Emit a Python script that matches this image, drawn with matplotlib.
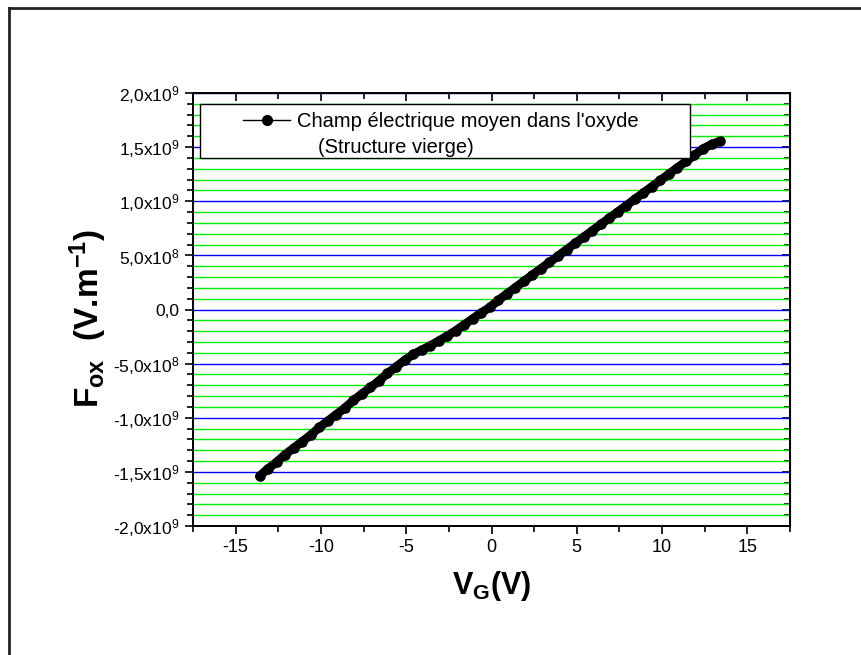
import matplotlib
matplotlib.use('Agg')
import matplotlib.pyplot as plt
from matplotlib.lines import Line2D
from matplotlib.patches import Rectangle
from matplotlib.ticker import MultipleLocator, FixedLocator

plt.rcParams['font.family'] = ['Liberation Sans', 'DejaVu Sans']
plt.rcParams['mathtext.fontset'] = 'custom'
plt.rcParams['mathtext.rm'] = 'Liberation Sans'
plt.rcParams['mathtext.bf'] = 'Liberation Sans:bold'
plt.rcParams['mathtext.it'] = 'Liberation Sans:italic'
plt.rcParams['axes.unicode_minus'] = False

# tension de grille (V)
vg = [-13.6, -13.1, -12.6, -12.1, -11.6, -11.1, -10.6, -10.1, -9.6, -9.1,
      -8.6, -8.1, -7.6, -7.1, -6.6, -6.1, -5.6, -5.1, -4.6, -4.1,
      -3.6, -3.1, -2.6, -2.1, -1.6, -1.1, -0.6, -0.1, 0.4, 0.9,
      1.4, 1.9, 2.4, 2.9, 3.4, 3.9, 4.4, 4.9, 5.4, 5.9,
      6.4, 6.9, 7.4, 7.9, 8.4, 8.9, 9.4, 9.9, 10.4, 10.9,
      11.4, 11.9, 12.4, 12.9, 13.4]
# champ dans l'oxyde (x1e9 V/m)
fox = [-1.54, -1.47, -1.41, -1.34, -1.28, -1.22, -1.16, -1.09, -1.03, -0.97,
       -0.91, -0.84, -0.78, -0.72, -0.66, -0.59, -0.53, -0.47, -0.415, -0.375,
       -0.335, -0.29, -0.245, -0.195, -0.14, -0.085, -0.03, 0.02, 0.085, 0.145,
       0.203, 0.261, 0.32, 0.378, 0.436, 0.494, 0.553, 0.611, 0.669, 0.727,
       0.786, 0.844, 0.902, 0.96, 1.019, 1.077, 1.135, 1.193, 1.252, 1.31,
       1.368, 1.426, 1.485, 1.525, 1.555]
fox = [f * 1e9 for f in fox]

xticks = [-15, -10, -5, 0, 5, 10, 15]
yticks = [-2e9, -1.5e9, -1e9, -5e8, 0, 5e8, 1e9, 1.5e9, 2e9]
ytick_labels = ['-2,0x10$^{9}$', '-1,5x10$^{9}$', '-1,0x10$^{9}$', '-5,0x10$^{8}$',
                '0,0', '5,0x10$^{8}$', '1,0x10$^{9}$', '1,5x10$^{9}$', '2,0x10$^{9}$']
legend_line1 = "Champ électrique moyen dans l'oxyde"
legend_line2 = "(Structure vierge)"

fig = plt.figure(figsize=(8.61, 6.55), dpi=100)
ax = fig.add_axes([193/861, 129/655, 597/861, 433/655])

ax.set_axisbelow(True)
ax.plot(vg, fox, color='black', lw=6.3, marker='o', ms=6.6,
        mfc='black', mec='black', solid_capstyle='round', zorder=3)

ax.set_xlim(-17.5, 17.5)
ax.set_ylim(-2e9, 2e9)
ax.xaxis.set_major_locator(FixedLocator(xticks))
ax.xaxis.set_minor_locator(MultipleLocator(2.5))
ax.yaxis.set_major_locator(FixedLocator(yticks))
ax.set_yticklabels(ytick_labels)
ax.yaxis.set_minor_locator(MultipleLocator(1e8))

ax.yaxis.grid(True, which='major', color='#0000ff', lw=1)
ax.yaxis.grid(True, which='minor', color='#00ee00', lw=1)

for s in ax.spines.values():
    s.set_linewidth(1.4)
ax.tick_params(which='both', direction='out', width=1.2)
ax.tick_params(axis='y', labelsize=12.5)
ax.tick_params(axis='x', labelsize=13)
ax.tick_params(which='major', length=6)
ax.tick_params(which='minor', length=4)

# graduations inversées en haut et à droite (style Origin)
top = ax.secondary_xaxis('top')
top.xaxis.set_major_locator(FixedLocator(xticks))
top.xaxis.set_minor_locator(MultipleLocator(2.5))
top.tick_params(which='both', direction='in', labeltop=False, width=1.2)
top.tick_params(which='major', length=6)
top.tick_params(which='minor', length=4)
right = ax.secondary_yaxis('right')
right.yaxis.set_major_locator(FixedLocator(yticks))
right.yaxis.set_minor_locator(MultipleLocator(1e8))
right.tick_params(which='both', direction='in', labelright=False, width=1.2)
right.tick_params(which='major', length=6)
right.tick_params(which='minor', length=4)

ax.set_xlabel(r'V$_\mathbf{G}$(V)', fontsize=22, fontweight='bold')
ax.xaxis.set_label_coords(0.5, -0.1)
ax.set_ylabel(r'F$_\mathbf{ox}$  (V.m$^\mathbf{-1}$)', fontsize=24, fontweight='bold')
ax.yaxis.set_label_coords(-0.14, 0.48)

# légende
ax.add_patch(Rectangle((0.0117, 0.85), 0.821, 0.1246, transform=ax.transAxes,
                       fc='white', ec='black', lw=1, zorder=4))
ax.add_line(Line2D([0.0838, 0.1625], [0.9376, 0.9376], transform=ax.transAxes,
                   color='black', lw=1, zorder=5))
ax.add_line(Line2D([0.124], [0.9376], transform=ax.transAxes, marker='o',
                   ms=7, color='black', zorder=6))
ax.text(0.1742, 0.9215, legend_line1, transform=ax.transAxes, fontsize=14.5,
        va='baseline', ha='left', zorder=6)
ax.text(0.2094, 0.8614, legend_line2, transform=ax.transAxes, fontsize=14.5,
        va='baseline', ha='left', zorder=6)

# cadre de la page
fig.add_artist(Line2D([9/861, 9/861], [0, 1 - 8/655], color='#222222', lw=2))
fig.add_artist(Line2D([9/861, 1], [1 - 8/655, 1 - 8/655], color='#222222', lw=2))

fig.savefig('out.png', dpi=100)
